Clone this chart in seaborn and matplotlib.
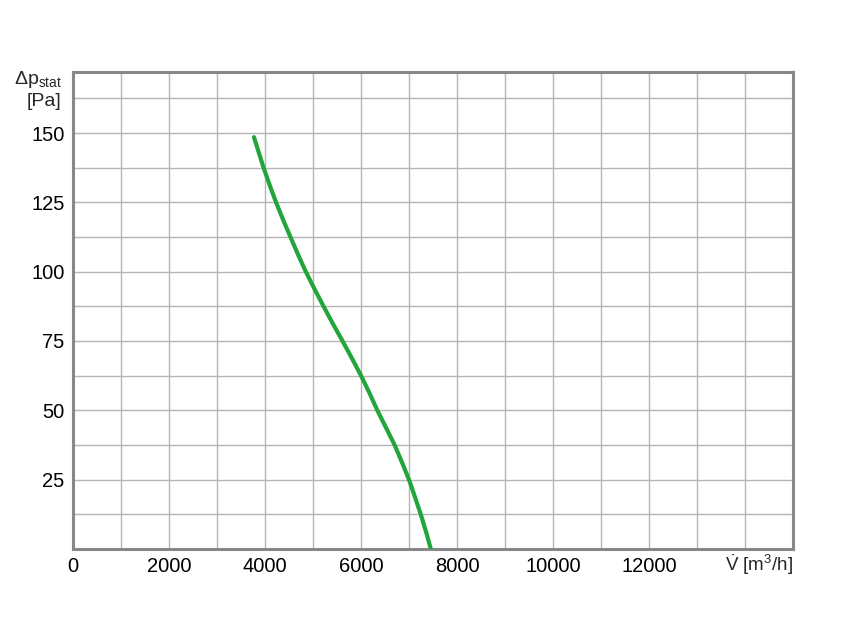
import numpy as np
import pandas as pd
import seaborn as sns
import matplotlib.pyplot as plt
from matplotlib.ticker import MultipleLocator

# fan curve
flow = [3770, 3870, 3970, 4100, 4230, 4380, 4530, 4690, 4850, 5030, 5220,
        5415, 5615, 5810, 6000, 6175, 6340, 6525, 6700, 6855, 7000, 7125, 7245, 7355, 7455]
pressure = [148.5, 143.0, 137.5, 131.1, 125, 118.6, 112.5, 106.1, 100, 93.8, 87.5,
            81.2, 75, 68.8, 62.5, 56.3, 50, 43.6, 37.5, 31.2, 25, 18.7, 12.5, 6.2, 0]

x_labels = [0, 2000, 4000, 6000, 8000, 10000, 12000]
y_labels = [25, 50, 75, 100, 125, 150]

sns.set_style("whitegrid")
plt.rcParams['font.family'] = ['Liberation Sans', 'DejaVu Sans']
plt.rcParams['mathtext.fontset'] = 'custom'
plt.rcParams['mathtext.rm'] = 'Liberation Sans'
plt.rcParams['mathtext.it'] = 'Liberation Sans'

fig = plt.figure(figsize=(8.5, 6.31), dpi=100)
ax = fig.add_axes([0.0859, 0.130, 0.8470, 0.7559])

df = pd.DataFrame({'flow': flow, 'pressure': pressure})
sns.lineplot(data=df, x='flow', y='pressure', ax=ax, color='#22a53a',
             linewidth=3.0, sort=False, zorder=3)

ax.set_xlim(0, 15000)
ax.set_ylim(0, 172)

ax.xaxis.set_minor_locator(MultipleLocator(1000))
ax.yaxis.set_minor_locator(MultipleLocator(12.5))
ax.set_xticks(x_labels)
ax.set_xticklabels([str(v) for v in x_labels])
ax.set_yticks(y_labels)
ax.set_yticklabels([str(v) for v in y_labels])
ax.grid(True, which='both', color='#b4b4b4', linewidth=1.0)
ax.tick_params(which='both', length=0, labelsize=14.5, colors='black', pad=6)

for s in ax.spines.values():
    s.set_color('#888888')
    s.set_linewidth(2.2)

ax.set_xlabel('')
ax.set_ylabel('')

ax.text(1.0, -0.033, r'$\dot{\mathregular{V}}$ [m$^3$/h]', transform=ax.transAxes,
        ha='right', va='center', fontsize=13.5)
ax.text(-0.016, 169.3, r'$\Delta$p$_{\mathregular{stat}}$', transform=ax.get_yaxis_transform(),
        ha='right', va='center', fontsize=14)
ax.text(-0.016, 161.2, '[Pa]', transform=ax.get_yaxis_transform(),
        ha='right', va='center', fontsize=14)

fig.savefig('out.png', dpi=100)
